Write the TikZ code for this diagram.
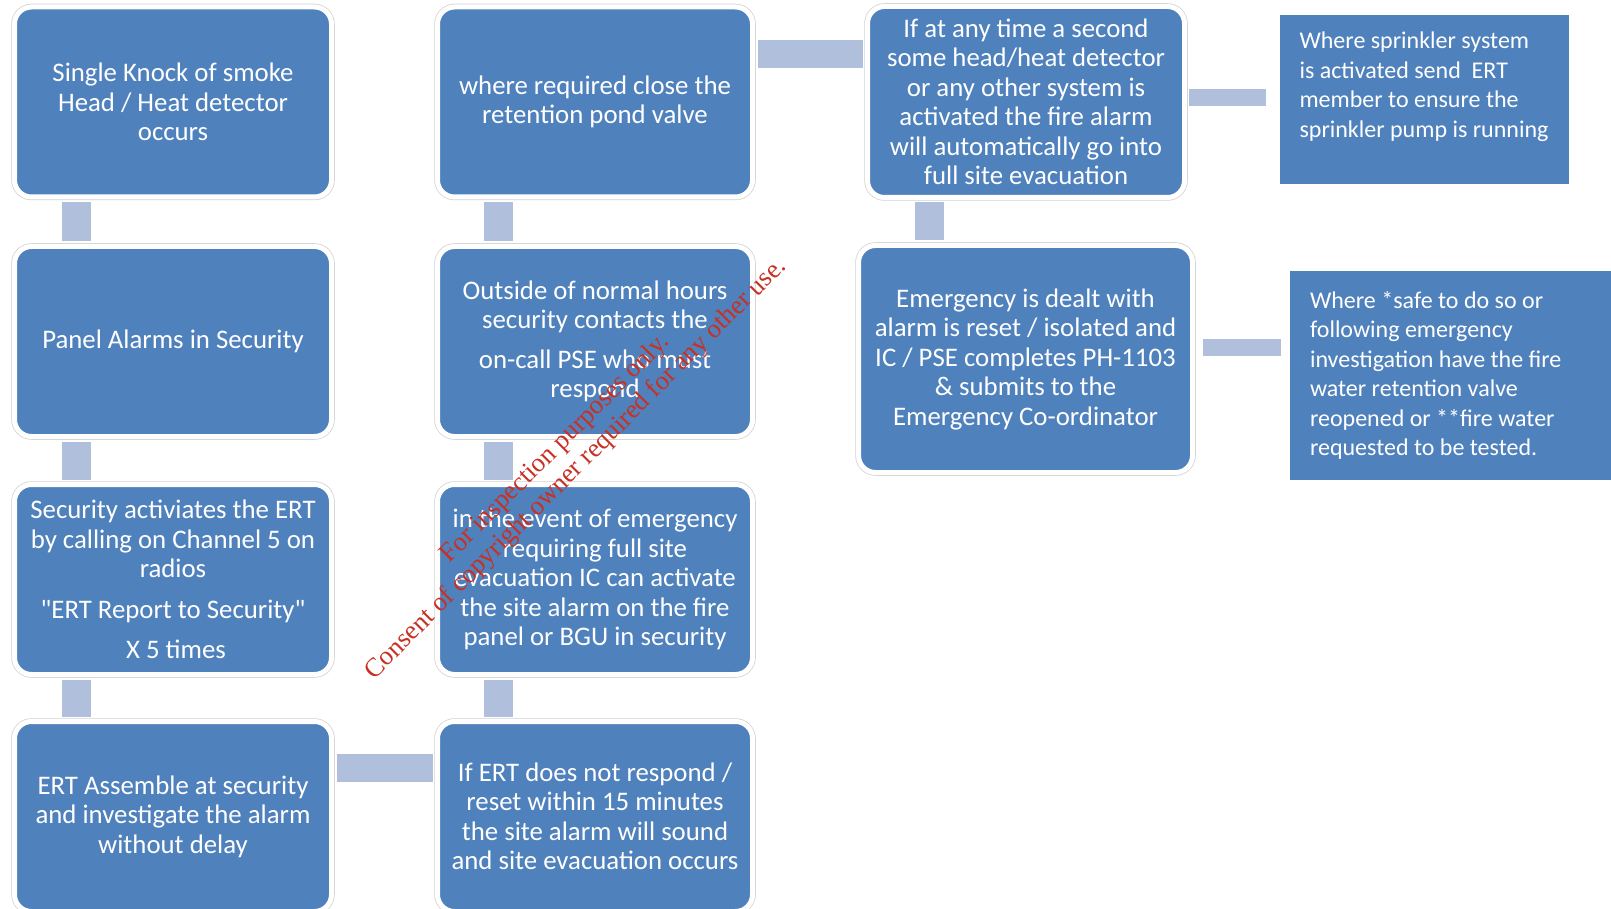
\documentclass[tikz,border=0pt]{standalone}
\usepackage{fontspec}
\setmainfont{Carlito}[Ligatures=TeXOff]
\newfontfamily\markfont{Liberation Serif}
\usepackage{tikz}

\definecolor{boxblue}{RGB}{79,129,189}
\definecolor{linkblue}{RGB}{176,192,220}
\definecolor{markred}{RGB}{200,48,36}

\begin{document}
\begin{tikzpicture}[x=1pt,y=-1pt,
  flowbox/.style={rounded corners=17pt, fill=boxblue, draw=white, line width=5pt,
    preaction={draw=black!18, line width=6.5pt}, text=white, align=center,
    inner sep=0pt, minimum width=317pt, minimum height=190pt,
    font=\fontsize{26.8}{29.5}\selectfont},
  notebox/.style={fill=boxblue, text=white, align=flush left, inner xsep=20pt, inner ysep=0pt,
    font=\fontsize{24}{29.5}\selectfont},
  link/.style={draw=linkblue, line width=29pt, shorten <=2.5pt, shorten >=2.5pt},
  watermark/.style={text=markred, align=center, font=\markfont\fontsize{26.5}{29}\selectfont}]
\clip (0,0) rectangle (1611,909);
% left column
\node [flowbox] (a1) at (173,102) {Single Knock of smoke\\Head / Heat detector\\occurs};
\node [flowbox] (a2) at (173,341.5) {Panel Alarms in Security};
\node [flowbox] (a3) at (173,579.5) {Security activiates the ERT\\by calling on Channel 5 on\\radios\\[11pt]
  "ERT Report to Security"\\[11pt]\hspace*{6pt}X 5 times};
\node [flowbox] (a4) at (173,816.5) {ERT Assemble at security\\and investigate the alarm\\without delay};
% middle column
\node [flowbox, minimum width=315pt] (b1) at (595,102) {where required close the\\retention pond valve};
\node [flowbox, minimum width=315pt] (b2) at (595,341.5) {Outside of normal hours\\security contacts the\\[10pt]
  on-call PSE who must\\respond};
\node [flowbox, minimum width=315pt] (b3) at (595,579.5) {in the event of emergency\\requiring full site\\evacuation IC can activate\\
  the site alarm on the fire\\panel or BGU in security};
\node [flowbox, minimum width=315pt] (b4) at (595,816.5) {If ERT does not respond /\\reset within 15 minutes\\
  the site alarm will sound\\and site evacuation occurs};
% right column
\node [flowbox, minimum height=191pt] (c1) at (1026,102) {If at any time a second\\some head/heat detector\\
  or any other system is\\activated the fire alarm\\will automatically go into\\full site evacuation};
\node [flowbox, minimum width=334pt, minimum height=227pt] (c2) at (1025.5,359) {Emergency is dealt with\\
  alarm is reset / isolated and\\IC / PSE completes PH-1103\\\& submits to the\\Emergency Co-ordinator};
% notes
\node [notebox, minimum width=288pt, minimum height=169pt] (d1) at (1424,99.5) {Where sprinkler system\\
  is activated send\ \ ERT\\member to ensure the\\sprinkler pump is running\\\mbox{}};
\node [notebox, text width=300pt, minimum height=209pt] (d2) at (1460,375.5) {Where *safe to do so or\\
  following emergency\\investigation have the fire\\water retention valve\\reopened or **fire water\\
  requested to be tested.};

% connectors
\draw [link] ([xshift=64pt]a1.south west) -- ([xshift=64pt]a2.north west);
\draw [link] ([xshift=64pt]a2.south west) -- ([xshift=64pt]a3.north west);
\draw [link] ([xshift=64pt]a3.south west) -- ([xshift=64pt]a4.north west);
\draw [link] ([xshift=63pt]b1.south west) -- ([xshift=63pt]b2.north west);
\draw [link] ([xshift=63pt]b2.south west) -- ([xshift=63pt]b3.north west);
\draw [link] ([xshift=63pt]b3.south west) -- ([xshift=63pt]b4.north west);
\draw [link] ([xshift=64pt]c1.south west) -- ([xshift=64pt]c1.south west |- c2.north);
\draw [link, line width=28pt] ([yshift=48pt]b1.east) -- ([yshift=48pt]b1.east -| c1.west);
\draw [link, line width=28pt] ([yshift=48.5pt]a4.east) -- ([yshift=48.5pt]a4.east -| b4.west);
\draw [link, line width=17pt, shorten <=2pt, shorten >=13pt] ([yshift=4.5pt]c1.east) -- ([yshift=4.5pt]c1.east -| d1.west);
\draw [link, line width=17pt, shorten <=7.5pt, shorten >=9pt] ([yshift=11.5pt]c2.east) -- ([yshift=11.5pt]c2.east -| d2.west);

% watermark
\node [watermark, rotate=45] (wm) at (566,459) {For inspection purposes only.\\
  Consent of copyright owner required for any other use.};
\end{tikzpicture}
\end{document}
